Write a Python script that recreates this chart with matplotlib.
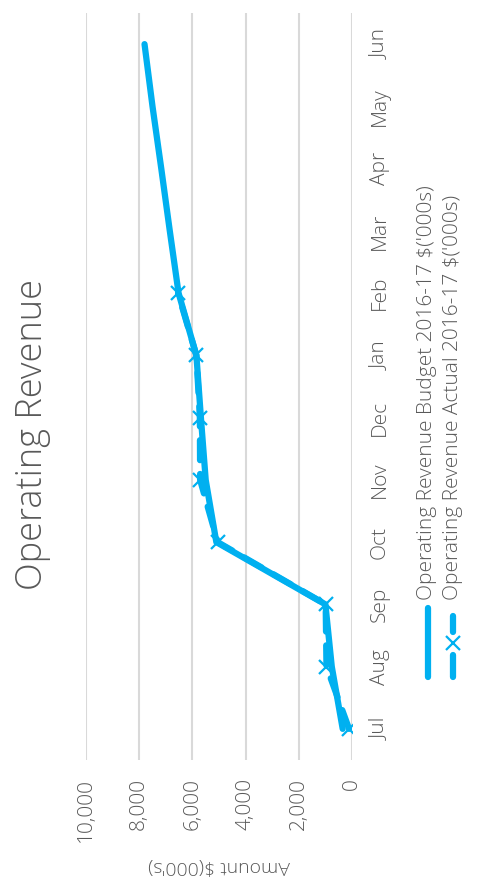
import matplotlib
matplotlib.use("Agg")
import matplotlib.pyplot as plt
from matplotlib.lines import Line2D

plt.rcParams['font.family'] = ['Open Sans', 'DejaVu Sans']

months = ['Jul', 'Aug', 'Sep', 'Oct', 'Nov', 'Dec', 'Jan', 'Feb', 'Mar', 'Apr', 'May', 'Jun']
budget = [350, 760, 1000, 5100, 5500, 5680, 5850, 6520, 6850, 7170, 7500, 7800]
actual = [110, 960, 990, 5050, 5710, 5720, 5850, 6540]
value_ticks = [0, 2000, 4000, 6000, 8000, 10000]

budget_label = "Operating Revenue Budget 2016-17 $('000s)"
actual_label = "Operating Revenue Actual 2016-17 $('000s)"
title = "Operating Revenue"
value_title = "Amount $(000's)"

BLUE = '#00B0F0'
GRAY_TXT = '#595959'
GRID = '#D9D9D9'
TICK_FS = 15

W, H = 478, 889
fig = plt.figure(figsize=(W / 100, H / 100), dpi=100)
fig.patch.set_facecolor('white')

# chart drawn sideways: months run bottom-to-top, amounts run right-to-left
ax = fig.add_axes([86 / W, 1 - 760 / H, (352 - 86) / W, (760 - 13) / H])
pos = list(range(len(months)))

ax.plot(budget, pos[:len(budget)], color=BLUE, lw=4.5,
        solid_capstyle='round', solid_joinstyle='round', zorder=3)
ax.plot(actual, pos[:len(actual)], color=BLUE, lw=4.5,
        linestyle=(0, (3.2, 2.2)), dash_capstyle='round',
        marker='x', markersize=10, markeredgewidth=1.6, zorder=4)

ax.set_xlim(10000, 0)
ax.set_ylim(-0.5, len(months) - 0.5)
ax.set_xticks(value_ticks)
ax.set_xticklabels([f"{v:,}" for v in value_ticks], rotation=90,
                   fontsize=TICK_FS, color=GRAY_TXT, fontweight='light')
ax.set_yticks(pos)
ax.yaxis.tick_right()
ax.set_yticklabels(months, rotation=90, fontsize=TICK_FS, color=GRAY_TXT,
                   fontweight='light', va='center')
ax.tick_params(axis='x', length=0, pad=13)
ax.tick_params(axis='y', length=0, pad=13)
ax.grid(axis='x', color=GRID, lw=1.5)
ax.set_axisbelow(True)
for s in ax.spines.values():
    s.set_visible(False)

fig.text(33 / W, 1 - 435 / H, title, rotation=90, ha='center', va='center',
         fontsize=26, color=GRAY_TXT, fontweight='light')
fig.text(219 / W, 1 - 866 / H, value_title, rotation=180, ha='center',
         va='center', fontsize=14, color=GRAY_TXT, fontweight='light')

# legend, laid out along the month axis
lg = fig.add_axes([0, 0, 1, 1], facecolor='none')
lg.set_xlim(0, W)
lg.set_ylim(H, 0)
lg.axis('off')
lg.add_line(Line2D([428, 428], [608, 677], color=BLUE, lw=4.5,
                   solid_capstyle='round'))
lg.add_line(Line2D([453, 453], [616, 632], color=BLUE, lw=4.5,
                   solid_capstyle='round'))
lg.add_line(Line2D([453, 453], [655, 677], color=BLUE, lw=4.5,
                   solid_capstyle='round'))
lg.add_line(Line2D([453], [643], color=BLUE, marker='x', markersize=10,
                   markeredgewidth=1.6, lw=0))
lg.text(427, 600, budget_label, rotation=90, ha='center', va='bottom',
        fontsize=TICK_FS, color=GRAY_TXT, fontweight='light')
lg.text(453, 600, actual_label, rotation=90, ha='center', va='bottom',
        fontsize=TICK_FS, color=GRAY_TXT, fontweight='light')

fig.savefig('out.png', dpi=100, facecolor='white')
